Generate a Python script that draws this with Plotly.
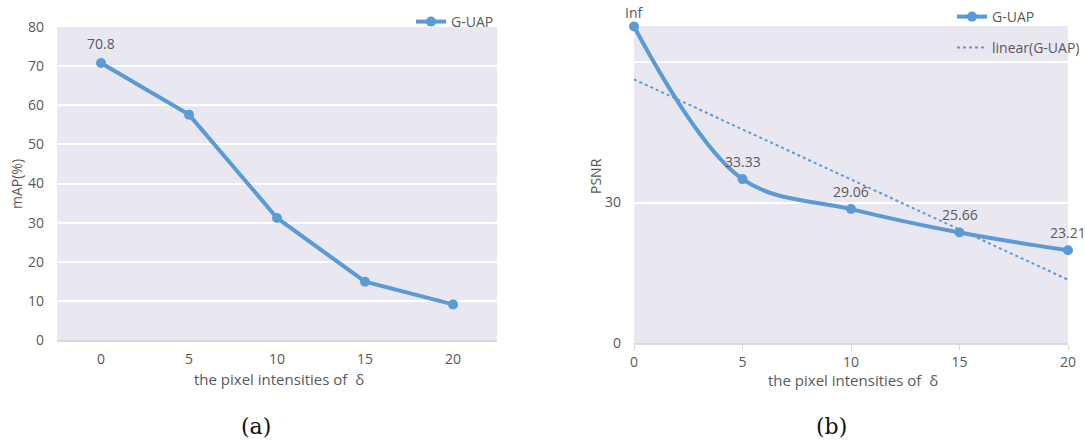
import numpy as np
import plotly.graph_objects as go

W, H = 1085, 440

# ---- data ----
delta = [0, 5, 10, 15, 20]
delta_labels = ["0", "5", "10", "15", "20"]
map_values = [70.8, 57.6, 31.2, 14.9, 9.1]
map_labels = ["70.8", "57.6", "31.2", "14.9", "9.1"]
psnr_plotted = [67.6, 35.0, 28.6, 23.6, 19.8]
psnr_labels = ["Inf", "33.33", "29.06", "25.66", "23.21"]
psnr_ticks = [0, 30, 60]
psnr_ticktext = ["0", "30", ""]

BLUE = "#5B9BD5"
GRAY = "#595959"
BG = "#E9E8F1"
AXIS = "#D9D9D9"
FONT = "Open Sans"

def px_x(p):
    return p / W

def px_y(p):
    return 1 - p / H

# linear trendline (least squares fit of the plotted series)
slope, intercept = np.polyfit(delta, psnr_plotted, 1)
trend = [intercept + slope * d for d in delta]

fig = go.Figure()

fig.add_trace(go.Scatter(
    x=delta_labels, y=map_values, mode="lines+markers", name="G-UAP",
    line=dict(color=BLUE, width=4), marker=dict(color=BLUE, size=10),
    xaxis="x", yaxis="y", legend="legend", showlegend=True, cliponaxis=False))

fig.add_trace(go.Scatter(
    x=delta, y=trend, mode="lines", name="linear(G-UAP)",
    line=dict(color=BLUE, width=2, dash="dot"),
    xaxis="x2", yaxis="y2", legend="legend3", showlegend=True))

fig.add_trace(go.Scatter(
    x=delta, y=psnr_plotted, mode="lines+markers", name="G-UAP",
    line=dict(color=BLUE, width=4, shape="spline", smoothing=1.0),
    marker=dict(color=BLUE, size=10),
    xaxis="x2", yaxis="y2", legend="legend2", showlegend=True, cliponaxis=False))

annotations = []
for xl, v, t in zip(delta_labels, map_values, map_labels):
    annotations.append(dict(x=xl, y=v, xref="x", yref="y", text=t, showarrow=False,
                            yshift=20, font=dict(family=FONT, size=14, color=GRAY)))
for xv, v, t in zip(delta, psnr_plotted, psnr_labels):
    annotations.append(dict(x=xv, y=v, xref="x2", yref="y2", text=t, showarrow=False,
                            yshift=14 if t == "Inf" else 18,
                            font=dict(family=FONT, size=14, color=GRAY)))

def paper_text(x, y, text, size, family=FONT, color=GRAY, angle=0):
    return dict(x=px_x(x), y=px_y(y), xref="paper", yref="paper", showarrow=False,
                xanchor="center", yanchor="middle", textangle=angle, text=text,
                font=dict(family=family, size=size, color=color))

# axis titles and captions
annotations += [
    paper_text(279, 379, "the pixel intensities of \u00a0δ", 15),
    paper_text(853, 380, "the pixel intensities of \u00a0δ", 15),
    paper_text(16, 184, "mAP(%)", 14, angle=-90),
    paper_text(595, 176, "PSNR", 14, angle=-90),
    paper_text(256, 426, "(a)", 22, family="DejaVu Serif", color="#111111"),
    paper_text(831, 426, "(b)", 22, family="DejaVu Serif", color="#111111"),
]

tickfont = dict(family=FONT, size=14, color=GRAY)
legfont = dict(family=FONT, size=14, color=GRAY)

fig.update_layout(
    width=W, height=H, autosize=False, showlegend=True,
    margin=dict(l=0, r=0, t=0, b=0, pad=0, autoexpand=False),
    paper_bgcolor="white", plot_bgcolor=BG,
    annotations=annotations,
    xaxis=dict(domain=[px_x(57), px_x(497)], anchor="y", type="category",
               range=[-0.5, 4.5], showgrid=False, showline=True, linecolor=AXIS,
               linewidth=2, ticks="", tickfont=tickfont, ticklabelstandoff=5,
               zeroline=False, automargin=False),
    yaxis=dict(domain=[px_y(340), px_y(27)], anchor="x", range=[0, 80], dtick=10,
               showgrid=True, gridcolor="white", gridwidth=2, zeroline=False,
               showline=False, ticks="", tickfont=tickfont, ticklabelstandoff=12,
               automargin=False),
    xaxis2=dict(domain=[px_x(634), px_x(1068)], anchor="y2", range=[0, 20],
                tickvals=delta, showgrid=False, showline=True, linecolor=AXIS,
                linewidth=2, ticks="outside", ticklen=5, tickcolor=AXIS, tickwidth=1,
                tickfont=tickfont, zeroline=False, automargin=False),
    yaxis2=dict(domain=[px_y(343), px_y(26)], anchor="x2", range=[0, 67.7],
                tickvals=psnr_ticks, ticktext=psnr_ticktext,
                showgrid=True, gridcolor="white", gridwidth=2, zeroline=False,
                showline=False, ticks="", tickfont=tickfont, ticklabelstandoff=12,
                automargin=False),
    legend=dict(x=px_x(411), y=px_y(22), xanchor="left", yanchor="middle",
                bgcolor="rgba(0,0,0,0)", font=legfont, borderwidth=0, visible=True),
    legend2=dict(x=px_x(952), y=px_y(17), xanchor="left", yanchor="middle",
                 bgcolor="rgba(0,0,0,0)", font=legfont, borderwidth=0, visible=True),
    legend3=dict(x=px_x(952), y=px_y(48), xanchor="left", yanchor="middle",
                 bgcolor="rgba(0,0,0,0)", font=legfont, borderwidth=0, visible=True),
)

fig.write_html("out.html", config={"displayModeBar": False},
               post_script="document.body.style.margin='0';document.body.style.overflow='hidden';")
